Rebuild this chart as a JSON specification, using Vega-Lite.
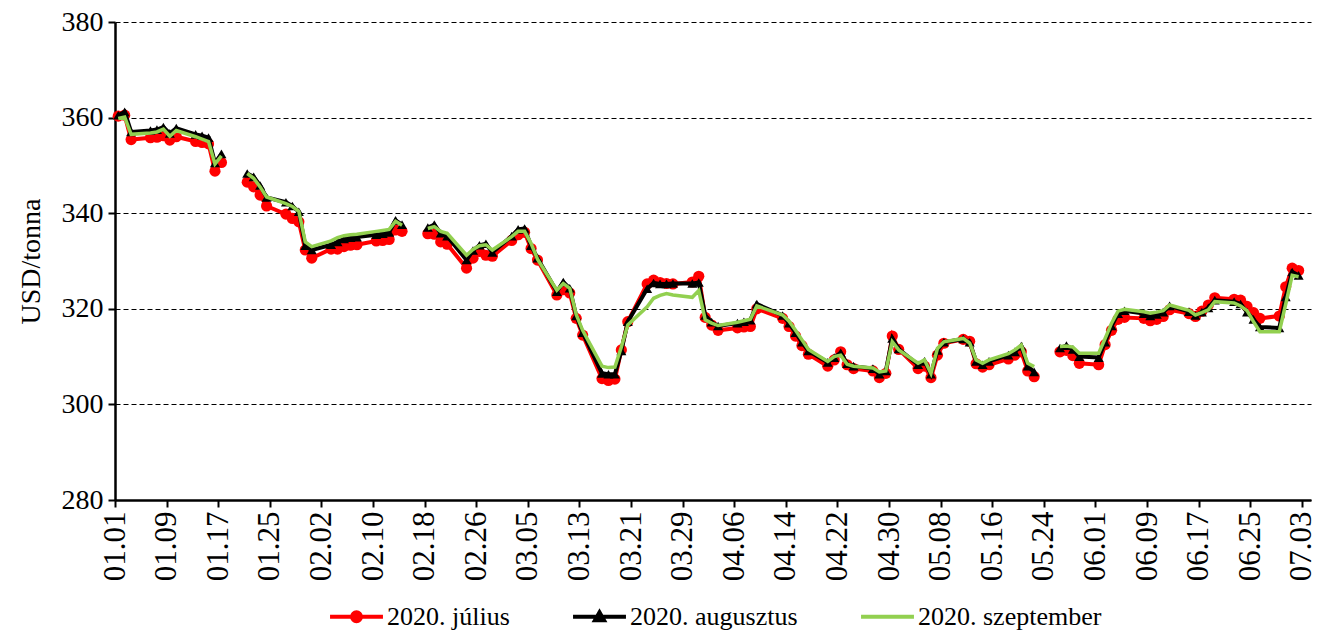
{
  "$schema": "https://vega.github.io/schema/vega-lite/v6.json",
  "width": 1196,
  "height": 478,
  "autosize": {"type": "none"},
  "padding": {"left": 115, "top": 22, "right": 8, "bottom": 136},
  "background": "white",
  "config": {
    "view": {"stroke": null},
    "font": "Liberation Serif",
    "legend": {
      "orient": "none",
      "legendX": 213,
      "legendY": 566,
      "direction": "horizontal",
      "title": null,
      "labelFont": "Liberation Serif",
      "labelFontSize": 26,
      "labelColor": "#000000",
      "labelLimit": 400,
      "labelOffset": 2,
      "columnPadding": 55,
      "symbolSize": 2800,
      "symbolStrokeWidth": 4,
      "padding": 0
    }
  },
  "data": {
    "values": [
      {"date": "2020-01-01", "jul": 360.3, "aug": 360.5, "sep": 359.8},
      {"date": "2020-01-02", "jul": 360.5, "aug": 361.2, "sep": 360.1},
      {"date": "2020-01-03", "jul": 355.4, "aug": 357.0, "sep": 356.5},
      {"date": "2020-01-06", "jul": 355.8, "aug": 357.3, "sep": 356.8},
      {"date": "2020-01-07", "jul": 355.9, "aug": 357.5, "sep": 357.0},
      {"date": "2020-01-08", "jul": 356.2, "aug": 358.0, "sep": 357.6},
      {"date": "2020-01-09", "jul": 355.3, "aug": 356.7, "sep": 356.1},
      {"date": "2020-01-10", "jul": 356.0, "aug": 357.8, "sep": 357.3},
      {"date": "2020-01-13", "jul": 355.0, "aug": 356.5, "sep": 356.0},
      {"date": "2020-01-14", "jul": 354.8, "aug": 356.2, "sep": 355.5},
      {"date": "2020-01-15", "jul": 354.5, "aug": 355.8, "sep": 355.0},
      {"date": "2020-01-16", "jul": 348.8, "aug": 350.5, "sep": 350.3},
      {"date": "2020-01-17", "jul": 350.6, "aug": 352.4, "sep": 352.0},
      {"date": "2020-01-20", "jul": null, "aug": null, "sep": null},
      {"date": "2020-01-21", "jul": 346.5, "aug": 348.3, "sep": 348.3},
      {"date": "2020-01-22", "jul": 345.5, "aug": 347.6, "sep": 347.3},
      {"date": "2020-01-23", "jul": 343.8, "aug": 345.8, "sep": 345.5},
      {"date": "2020-01-24", "jul": 341.5, "aug": 343.3, "sep": 343.4},
      {"date": "2020-01-27", "jul": 339.8, "aug": 342.3, "sep": 342.0},
      {"date": "2020-01-28", "jul": 338.9, "aug": 341.5, "sep": 341.4},
      {"date": "2020-01-29", "jul": 338.2, "aug": 340.3, "sep": 340.4},
      {"date": "2020-01-30", "jul": 332.3, "aug": 333.2, "sep": 334.0},
      {"date": "2020-01-31", "jul": 330.6, "aug": 332.3, "sep": 333.0},
      {"date": "2020-02-03", "jul": 332.5, "aug": 333.4, "sep": 334.2},
      {"date": "2020-02-04", "jul": 332.5, "aug": 334.0, "sep": 334.9},
      {"date": "2020-02-05", "jul": 333.0, "aug": 334.6, "sep": 335.3},
      {"date": "2020-02-06", "jul": 333.3, "aug": 334.9, "sep": 335.5},
      {"date": "2020-02-07", "jul": 333.4, "aug": 335.0, "sep": 335.6},
      {"date": "2020-02-10", "jul": 334.2, "aug": 335.5, "sep": 336.2},
      {"date": "2020-02-11", "jul": 334.3, "aug": 335.7, "sep": 336.4},
      {"date": "2020-02-12", "jul": 334.5, "aug": 336.0, "sep": 336.6},
      {"date": "2020-02-13", "jul": 336.5, "aug": 338.5, "sep": 338.3},
      {"date": "2020-02-14", "jul": 336.2, "aug": 337.6, "sep": 337.5},
      {"date": "2020-02-17", "jul": null, "aug": null, "sep": null},
      {"date": "2020-02-18", "jul": 335.7, "aug": 337.0, "sep": 336.8},
      {"date": "2020-02-19", "jul": 335.6, "aug": 337.6, "sep": 337.2},
      {"date": "2020-02-20", "jul": 334.0, "aug": 335.8, "sep": 336.2},
      {"date": "2020-02-21", "jul": 333.5, "aug": 335.2, "sep": 335.8},
      {"date": "2020-02-24", "jul": 328.5, "aug": 330.2, "sep": 331.2},
      {"date": "2020-02-25", "jul": 330.6, "aug": 332.2, "sep": 332.4},
      {"date": "2020-02-26", "jul": 332.0, "aug": 333.3, "sep": 333.2},
      {"date": "2020-02-27", "jul": 331.2, "aug": 333.6, "sep": 333.4},
      {"date": "2020-02-28", "jul": 331.0, "aug": 331.8, "sep": 332.3},
      {"date": "2020-03-02", "jul": 334.3, "aug": 335.2, "sep": 335.1},
      {"date": "2020-03-03", "jul": 335.5, "aug": 336.6, "sep": 336.2},
      {"date": "2020-03-04", "jul": 336.0, "aug": 336.8, "sep": 336.2},
      {"date": "2020-03-05", "jul": 332.6, "aug": 333.2, "sep": 333.7},
      {"date": "2020-03-06", "jul": 330.2, "aug": 330.6, "sep": 330.4},
      {"date": "2020-03-09", "jul": 322.9, "aug": 323.6, "sep": 323.9},
      {"date": "2020-03-10", "jul": 324.0, "aug": 325.6, "sep": 325.3},
      {"date": "2020-03-11", "jul": 323.3, "aug": 324.3, "sep": 324.3},
      {"date": "2020-03-12", "jul": 318.0, "aug": 318.5, "sep": 318.8},
      {"date": "2020-03-13", "jul": 314.5, "aug": 315.0, "sep": 315.5},
      {"date": "2020-03-16", "jul": 305.4, "aug": 306.5, "sep": 308.0},
      {"date": "2020-03-17", "jul": 305.0, "aug": 306.3, "sep": 307.7},
      {"date": "2020-03-18", "jul": 305.3, "aug": 306.3, "sep": 307.8},
      {"date": "2020-03-19", "jul": 311.4, "aug": 311.2, "sep": 312.0},
      {"date": "2020-03-20", "jul": 317.3, "aug": 317.3, "sep": 316.6},
      {"date": "2020-03-23", "jul": 325.2, "aug": 324.2, "sep": 320.4},
      {"date": "2020-03-24", "jul": 326.0, "aug": 325.4, "sep": 322.2},
      {"date": "2020-03-25", "jul": 325.5, "aug": 325.2, "sep": 322.8},
      {"date": "2020-03-26", "jul": 325.3, "aug": 325.2, "sep": 323.2},
      {"date": "2020-03-27", "jul": 325.2, "aug": 325.3, "sep": 322.9},
      {"date": "2020-03-30", "jul": 325.6, "aug": 325.3, "sep": 322.4},
      {"date": "2020-03-31", "jul": 326.8, "aug": 325.5, "sep": 323.8},
      {"date": "2020-04-01", "jul": 318.2, "aug": 318.6, "sep": 317.7},
      {"date": "2020-04-02", "jul": 316.6, "aug": 317.2, "sep": 317.0},
      {"date": "2020-04-03", "jul": 315.5, "aug": 316.4, "sep": 316.5},
      {"date": "2020-04-06", "jul": 316.0, "aug": 317.0, "sep": 317.2},
      {"date": "2020-04-07", "jul": 316.2, "aug": 317.3, "sep": 317.5},
      {"date": "2020-04-08", "jul": 316.3, "aug": 317.6, "sep": 317.8},
      {"date": "2020-04-09", "jul": 320.0, "aug": 321.0, "sep": 320.6},
      {"date": "2020-04-13", "jul": 318.0, "aug": 318.6, "sep": 318.7},
      {"date": "2020-04-14", "jul": 316.3, "aug": 317.0, "sep": 317.4},
      {"date": "2020-04-15", "jul": 314.3, "aug": 315.0, "sep": 315.5},
      {"date": "2020-04-16", "jul": 312.3, "aug": 313.0, "sep": 313.5},
      {"date": "2020-04-17", "jul": 310.5, "aug": 311.2, "sep": 311.5},
      {"date": "2020-04-20", "jul": 308.0, "aug": 308.8, "sep": 309.0},
      {"date": "2020-04-21", "jul": 309.3, "aug": 309.8, "sep": 310.0},
      {"date": "2020-04-22", "jul": 311.0, "aug": 310.8, "sep": 310.3},
      {"date": "2020-04-23", "jul": 308.3, "aug": 308.5, "sep": 308.4},
      {"date": "2020-04-24", "jul": 307.5, "aug": 308.0, "sep": 308.0},
      {"date": "2020-04-27", "jul": 307.0, "aug": 307.5, "sep": 307.6},
      {"date": "2020-04-28", "jul": 305.6, "aug": 306.3, "sep": 306.8},
      {"date": "2020-04-29", "jul": 306.5, "aug": 307.0, "sep": 307.0},
      {"date": "2020-04-30", "jul": 314.3, "aug": 313.8, "sep": 313.1},
      {"date": "2020-05-01", "jul": 311.5, "aug": 311.6, "sep": 311.4},
      {"date": "2020-05-04", "jul": 307.5, "aug": 308.3, "sep": 308.6},
      {"date": "2020-05-05", "jul": 308.0, "aug": 309.0, "sep": 309.3},
      {"date": "2020-05-06", "jul": 305.6, "aug": 306.3, "sep": 306.5},
      {"date": "2020-05-07", "jul": 310.3, "aug": 311.3, "sep": 311.7},
      {"date": "2020-05-08", "jul": 312.8, "aug": 313.0, "sep": 313.1},
      {"date": "2020-05-11", "jul": 313.6, "aug": 313.7, "sep": 313.8},
      {"date": "2020-05-12", "jul": 313.2, "aug": 313.0, "sep": 312.8},
      {"date": "2020-05-13", "jul": 308.5, "aug": 309.0, "sep": 309.3},
      {"date": "2020-05-14", "jul": 307.8, "aug": 308.3, "sep": 308.6},
      {"date": "2020-05-15", "jul": 308.3, "aug": 309.0, "sep": 309.3},
      {"date": "2020-05-18", "jul": 309.5, "aug": 310.3, "sep": 310.6},
      {"date": "2020-05-19", "jul": 310.3, "aug": 311.0, "sep": 311.4},
      {"date": "2020-05-20", "jul": 311.0, "aug": 312.2, "sep": 312.4},
      {"date": "2020-05-21", "jul": 307.0, "aug": 308.0, "sep": 308.6},
      {"date": "2020-05-22", "jul": 305.8, "aug": 306.8, "sep": 307.9},
      {"date": "2020-05-25", "jul": null, "aug": null, "sep": null},
      {"date": "2020-05-26", "jul": 311.0, "aug": 311.8, "sep": 312.1},
      {"date": "2020-05-27", "jul": 311.3, "aug": 312.3, "sep": 312.2},
      {"date": "2020-05-28", "jul": 310.2, "aug": 311.5, "sep": 312.0},
      {"date": "2020-05-29", "jul": 308.6, "aug": 310.0, "sep": 310.7},
      {"date": "2020-06-01", "jul": 308.3, "aug": 309.8, "sep": 310.7},
      {"date": "2020-06-02", "jul": 312.5, "aug": 313.0, "sep": 313.8},
      {"date": "2020-06-03", "jul": 315.5, "aug": 316.4, "sep": 317.0},
      {"date": "2020-06-04", "jul": 317.8, "aug": 319.0, "sep": 319.5},
      {"date": "2020-06-05", "jul": 318.2, "aug": 319.6, "sep": 319.9},
      {"date": "2020-06-08", "jul": 318.0, "aug": 319.0, "sep": 319.4},
      {"date": "2020-06-09", "jul": 317.5, "aug": 318.5, "sep": 319.1},
      {"date": "2020-06-10", "jul": 317.8, "aug": 318.8, "sep": 319.3},
      {"date": "2020-06-11", "jul": 318.4, "aug": 319.3, "sep": 319.6},
      {"date": "2020-06-12", "jul": 319.8, "aug": 320.6, "sep": 320.8},
      {"date": "2020-06-15", "jul": 319.0, "aug": 319.4, "sep": 319.7},
      {"date": "2020-06-16", "jul": 318.4, "aug": 318.6, "sep": 318.7},
      {"date": "2020-06-17", "jul": 319.5, "aug": 319.3, "sep": 319.2},
      {"date": "2020-06-18", "jul": 320.8, "aug": 320.2, "sep": 319.8},
      {"date": "2020-06-19", "jul": 322.3, "aug": 321.8, "sep": 321.5},
      {"date": "2020-06-22", "jul": 322.0, "aug": 321.5, "sep": 321.2},
      {"date": "2020-06-23", "jul": 321.8, "aug": 321.0, "sep": 320.6},
      {"date": "2020-06-24", "jul": 320.5, "aug": 319.3, "sep": 319.6},
      {"date": "2020-06-25", "jul": 319.2, "aug": 317.8, "sep": 317.3},
      {"date": "2020-06-26", "jul": 318.0, "aug": 316.2, "sep": 315.2},
      {"date": "2020-06-29", "jul": 318.5, "aug": 316.0, "sep": 315.2},
      {"date": "2020-06-30", "jul": 324.6, "aug": 322.5, "sep": 321.0},
      {"date": "2020-07-01", "jul": 328.5, "aug": 327.7, "sep": 327.0},
      {"date": "2020-07-02", "jul": 328.0, "aug": 327.0, "sep": 326.7}
    ]
  },
  "transform": [{"fold": ["jul", "aug", "sep"], "as": ["series", "value"]}],
  "encoding": {
    "x": {
      "field": "date",
      "type": "temporal",
      "timeUnit": "utcyearmonthdate",
      "bandPosition": 0.5,
      "scale": {
        "type": "utc",
        "domain": [
          {"year": 2020, "month": 1, "date": 1, "utc": true},
          {"year": 2020, "month": 7, "date": 4, "hours": 10, "utc": true}
        ]
      },
      "axis": {
        "title": null,
        "values": [
          {"year": 2020, "month": 1, "date": 1, "utc": true},
          {"year": 2020, "month": 1, "date": 9, "utc": true},
          {"year": 2020, "month": 1, "date": 17, "utc": true},
          {"year": 2020, "month": 1, "date": 25, "utc": true},
          {"year": 2020, "month": 2, "date": 2, "utc": true},
          {"year": 2020, "month": 2, "date": 10, "utc": true},
          {"year": 2020, "month": 2, "date": 18, "utc": true},
          {"year": 2020, "month": 2, "date": 26, "utc": true},
          {"year": 2020, "month": 3, "date": 5, "utc": true},
          {"year": 2020, "month": 3, "date": 13, "utc": true},
          {"year": 2020, "month": 3, "date": 21, "utc": true},
          {"year": 2020, "month": 3, "date": 29, "utc": true},
          {"year": 2020, "month": 4, "date": 6, "utc": true},
          {"year": 2020, "month": 4, "date": 14, "utc": true},
          {"year": 2020, "month": 4, "date": 22, "utc": true},
          {"year": 2020, "month": 4, "date": 30, "utc": true},
          {"year": 2020, "month": 5, "date": 8, "utc": true},
          {"year": 2020, "month": 5, "date": 16, "utc": true},
          {"year": 2020, "month": 5, "date": 24, "utc": true},
          {"year": 2020, "month": 6, "date": 1, "utc": true},
          {"year": 2020, "month": 6, "date": 9, "utc": true},
          {"year": 2020, "month": 6, "date": 17, "utc": true},
          {"year": 2020, "month": 6, "date": 25, "utc": true},
          {"year": 2020, "month": 7, "date": 3, "utc": true}
        ],
        "format": "%m.%d",
        "labelAngle": -90,
        "labelFont": "Liberation Serif",
        "labelFontSize": 31,
        "labelColor": "#000000",
        "labelPadding": 4,
        "labelOverlap": false,
        "labelFlush": false,
        "tickColor": "#000000",
        "tickSize": 7,
        "tickWidth": 2,
        "domainColor": "#000000",
        "domainWidth": 2.5,
        "grid": false
      }
    },
    "y": {
      "field": "value",
      "type": "quantitative",
      "scale": {"domain": [280, 380], "nice": false, "zero": false},
      "axis": {
        "title": "USD/tonna",
        "titleFont": "Liberation Serif",
        "titleFontSize": 28,
        "titleFontWeight": "normal",
        "titleColor": "#000000",
        "titlePadding": 16,
        "values": [280, 300, 320, 340, 360, 380],
        "labelFont": "Liberation Serif",
        "labelFontSize": 28,
        "labelColor": "#000000",
        "labelPadding": 5,
        "tickColor": "#000000",
        "tickSize": 7,
        "tickWidth": 2,
        "domainColor": "#000000",
        "domainWidth": 2.5,
        "grid": true,
        "gridColor": "#000000",
        "gridOpacity": 1,
        "gridWidth": 1,
        "gridDash": [5, 3]
      }
    }
  },
  "layer": [
    {
      "transform": [{"filter": {"field": "series", "equal": "jul"}}],
      "mark": {"type": "line", "strokeWidth": 4, "invalid": "break-paths-filter-domains"},
      "encoding": {
        "color": {
          "field": "series",
          "type": "nominal",
          "scale": {"domain": ["jul", "aug", "sep"], "range": ["#FF0000", "#000000", "#92D050"]},
          "legend": {
            "labelExpr": "datum.label == 'jul' ? '2020. július' : datum.label == 'aug' ? '2020. augusztus' : '2020. szeptember'",
            "encode": {
              "symbols": {
                "update": {
                  "shape": {"signal": "datum.value == 'jul' ? 'M-1,0H1M-0.17,0A0.17,0.17 0 1,0 0.17,0A0.17,0.17 0 1,0 -0.17,0Z' : datum.value == 'aug' ? 'M-1,0H1M-0.17,0.13L0,-0.17L0.17,0.13Z' : 'M-1,0H1'"},
                  "fill": {"signal": "datum.value == 'jul' ? '#FF0000' : datum.value == 'aug' ? '#000000' : 'transparent'"},
                  "stroke": {"signal": "datum.value == 'jul' ? '#FF0000' : datum.value == 'aug' ? '#000000' : '#92D050'"},
                  "strokeWidth": {"value": 4}
                }
              }
            }
          }
        }
      }
    },
    {
      "transform": [{"filter": {"field": "series", "equal": "jul"}}],
      "mark": {"type": "point", "shape": "circle", "filled": true, "size": 125, "color": "#FF0000", "opacity": 1}
    },
    {
      "transform": [{"filter": {"field": "series", "equal": "aug"}}],
      "mark": {"type": "line", "strokeWidth": 4, "invalid": "break-paths-filter-domains"},
      "encoding": {"color": {"field": "series", "type": "nominal"}}
    },
    {
      "transform": [{"filter": {"field": "series", "equal": "aug"}}],
      "mark": {"type": "point", "shape": "triangle-up", "filled": true, "size": 100, "color": "#000000", "opacity": 1}
    },
    {
      "transform": [{"filter": {"field": "series", "equal": "sep"}}],
      "mark": {"type": "line", "strokeWidth": 3.5, "invalid": "break-paths-filter-domains"},
      "encoding": {"color": {"field": "series", "type": "nominal"}}
    }
  ]
}
